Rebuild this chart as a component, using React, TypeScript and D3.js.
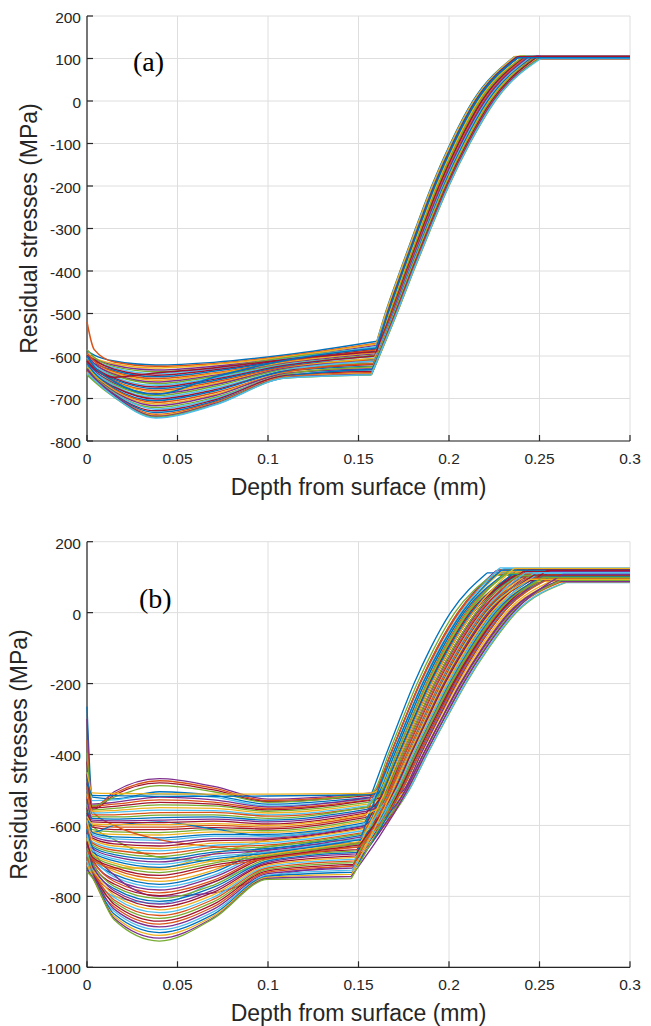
import React from 'react';
import * as d3 from 'd3';

// MATLAB default line colour order
const COLORS = ['#0072BD', '#D95319', '#EDB120', '#7E2F8E', '#77AC30', '#4DBEEE', '#A2142F'];

const X_TICKS = [0, 0.05, 0.1, 0.15, 0.2, 0.25, 0.3];
const X_TICK_LABELS = ['0', '0.05', '0.1', '0.15', '0.2', '0.25', '0.3'];
const Y_TICKS_A = [200, 100, 0, -100, -200, -300, -400, -500, -600, -700, -800];
const Y_TICKS_B = [200, 0, -200, -400, -600, -800, -1000];

// depths (mm) at which the near-surface part of each curve is read
const KNOTS_A = [0, 0.004, 0.015, 0.038, 0.07, 0.11];
const KNOTS_B = [0, 0.003, 0.015, 0.04, 0.07, 0.1];

// shape of the steep rise: stress levels and their relative position between
// depth at -500 MPa (a) and depth where the plateau is reached (b)
const RISE_STRESS = [-500, -400, -300, -200, -100, 0];
const RISE_FRAC = [0, 0.115, 0.235, 0.36, 0.505, 0.68];

// each row: v(knot0..knot5), v at kink, kink depth, a (depth @ -500), b (depth @ plateau), plateau stress
const CURVES_A = [
  [-588, -598, -612, -621, -615, -597, -565, 0.1602, 0.1648, 0.2360, 104],
  [-520, -585, -614, -624, -618, -600, -570, 0.1600, 0.1655, 0.2370, 103],
  [-595, -605, -618, -628, -620, -602, -572, 0.1598, 0.1650, 0.2365, 105],
  [-600, -608, -622, -633, -624, -605, -575, 0.1600, 0.1660, 0.2380, 102],
  [-585, -603, -625, -637, -628, -604, -580, 0.1598, 0.1668, 0.2390, 106],
  [-605, -612, -628, -641, -630, -607, -578, 0.1597, 0.1658, 0.2372, 104],
  [-598, -610, -631, -645, -633, -609, -584, 0.1596, 0.1672, 0.2400, 101],
  [-610, -618, -634, -649, -636, -611, -588, 0.1595, 0.1665, 0.2385, 103],
  [-592, -612, -637, -653, -640, -613, -586, 0.1596, 0.1678, 0.2410, 105],
  [-615, -622, -640, -657, -642, -615, -592, 0.1594, 0.1670, 0.2395, 100],
  [-600, -618, -643, -661, -646, -617, -595, 0.1593, 0.1682, 0.2420, 104],
  [-620, -628, -646, -665, -648, -619, -598, 0.1592, 0.1675, 0.2405, 102],
  [-605, -622, -649, -669, -652, -620, -602, 0.1591, 0.1686, 0.2428, 106],
  [-612, -627, -652, -673, -655, -622, -600, 0.1590, 0.1680, 0.2418, 103],
  [-625, -633, -655, -677, -658, -624, -607, 0.1589, 0.1690, 0.2440, 101],
  [-608, -628, -658, -681, -662, -626, -610, 0.1588, 0.1684, 0.2432, 105],
  [-630, -638, -661, -685, -665, -628, -605, 0.1588, 0.1694, 0.2450, 102],
  [-615, -634, -664, -689, -668, -629, -613, 0.1587, 0.1688, 0.2440, 104],
  [-632, -641, -667, -693, -672, -631, -617, 0.1586, 0.1698, 0.2460, 100],
  [-620, -638, -670, -697, -676, -633, -612, 0.1585, 0.1692, 0.2452, 103],
  [-635, -645, -673, -701, -680, -635, -620, 0.1584, 0.1700, 0.2468, 105],
  [-618, -640, -676, -705, -683, -636, -624, 0.1583, 0.1695, 0.2460, 101],
  [-638, -648, -679, -709, -687, -638, -618, 0.1582, 0.1703, 0.2478, 104],
  [-625, -645, -681, -713, -691, -640, -627, 0.1581, 0.1698, 0.2470, 102],
  [-640, -651, -684, -717, -694, -641, -630, 0.1580, 0.1706, 0.2485, 106],
  [-628, -648, -686, -721, -698, -643, -625, 0.1580, 0.1700, 0.2478, 103],
  [-642, -654, -688, -725, -701, -645, -633, 0.1578, 0.1708, 0.2492, 100],
  [-632, -651, -690, -729, -704, -646, -636, 0.1577, 0.1703, 0.2488, 104],
  [-645, -657, -692, -733, -707, -648, -631, 0.1576, 0.1710, 0.2500, 102],
  [-636, -654, -693, -737, -710, -649, -639, 0.1575, 0.1706, 0.2496, 99],
  [-640, -659, -695, -740, -712, -650, -641, 0.1574, 0.1712, 0.2505, 105],
  [-630, -652, -692, -742, -713, -651, -643, 0.1572, 0.1708, 0.2500, 101],
  [-644, -660, -697, -744, -715, -652, -645, 0.1571, 0.1712, 0.2510, 103],
  [-638, -656, -696, -746, -716, -652, -644, 0.1570, 0.1710, 0.2508, 100],
  [-612, -630, -650, -640, -628, -608, -590, 0.1600, 0.1660, 0.2375, 104],
  [-600, -625, -660, -690, -650, -610, -582, 0.1598, 0.1662, 0.2380, 102],
];

const PEAK_B = [
  [-300, -552, -505, -468, -490, -526, -508, 0.1575, 0.160, 0.226, 118],
  [-360, -548, -510, -474, -495, -530, -512, 0.1570, 0.163, 0.231, 110],
  [-420, -556, -515, -480, -500, -533, -515, 0.1568, 0.166, 0.238, 122],
  [-395, -545, -520, -488, -505, -535, -510, 0.1572, 0.159, 0.224, 105],
  [-450, -508, -510, -511, -512, -512, -510, 0.1560, 0.161, 0.229, 115],
  [-470, -515, -516, -518, -518, -517, -514, 0.1555, 0.165, 0.236, 100],
];
const UPPER_B = [
  [-265, -520, -525, -505, -515, -540, -520, 0.1565, 0.158, 0.221, 112],
  [-500, -530, -528, -512, -520, -545, -525, 0.1560, 0.162, 0.230, 124],
  [-480, -540, -535, -520, -528, -548, -522, 0.1562, 0.167, 0.240, 96],
  [-520, -545, -540, -528, -534, -552, -528, 0.1558, 0.160, 0.226, 108],
  [-455, -550, -546, -535, -540, -556, -530, 0.1555, 0.170, 0.245, 90],
  [-530, -556, -552, -542, -545, -560, -535, 0.1553, 0.164, 0.233, 119],
  [-510, -560, -558, -550, -552, -565, -540, 0.1550, 0.168, 0.242, 102],
  [-540, -565, -563, -557, -558, -570, -545, 0.1548, 0.161, 0.228, 126],
  [-490, -570, -570, -564, -563, -574, -550, 0.1545, 0.172, 0.250, 94],
  [-545, -575, -576, -571, -570, -580, -548, 0.1548, 0.163, 0.232, 110],
  [-560, -580, -582, -578, -576, -585, -555, 0.1545, 0.169, 0.244, 99],
  [-525, -585, -587, -585, -582, -590, -560, 0.1542, 0.175, 0.256, 116],
  [-565, -590, -592, -592, -588, -596, -565, 0.1540, 0.165, 0.236, 104],
  [-575, -596, -598, -598, -595, -600, -568, 0.1543, 0.171, 0.248, 88],
];
const MIDDLE_B = [
  [-580, -600, -605, -605, -600, -605, -572, 0.1540, 0.160, 0.227, 121],
  [-550, -605, -612, -612, -606, -610, -578, 0.1535, 0.173, 0.252, 97],
  [-590, -612, -618, -620, -612, -615, -582, 0.1538, 0.166, 0.238, 113],
  [-600, -618, -625, -627, -618, -620, -588, 0.1532, 0.176, 0.259, 86],
  [-570, -620, -632, -635, -625, -625, -592, 0.1535, 0.162, 0.230, 107],
  [-610, -625, -638, -642, -630, -630, -597, 0.1530, 0.169, 0.244, 123],
  [-595, -630, -645, -650, -637, -636, -602, 0.1528, 0.174, 0.254, 92],
  [-620, -636, -652, -658, -643, -640, -606, 0.1530, 0.164, 0.234, 101],
  [-585, -640, -658, -665, -650, -645, -610, 0.1525, 0.171, 0.248, 117],
  [-630, -646, -664, -672, -656, -650, -615, 0.1522, 0.178, 0.264, 85],
  [-605, -650, -670, -680, -662, -655, -620, 0.1525, 0.167, 0.240, 109],
  [-640, -655, -676, -688, -668, -660, -624, 0.1520, 0.173, 0.252, 95],
  [-615, -660, -682, -695, -675, -665, -628, 0.1518, 0.161, 0.229, 120],
  [-650, -665, -688, -703, -681, -670, -632, 0.1520, 0.176, 0.260, 88],
  [-625, -670, -694, -710, -688, -675, -637, 0.1515, 0.168, 0.242, 112],
  [-660, -675, -700, -718, -694, -678, -640, 0.1512, 0.172, 0.251, 100],
  [-635, -680, -706, -725, -700, -682, -645, 0.1515, 0.165, 0.236, 125],
  [-665, -684, -712, -733, -706, -686, -650, 0.1510, 0.177, 0.262, 91],
  [-645, -690, -718, -741, -712, -690, -655, 0.1508, 0.170, 0.247, 106],
  [-670, -694, -724, -749, -718, -694, -660, 0.1505, 0.174, 0.256, 98],
];
const LOWER_B = [
  [-600, -680, -730, -758, -726, -660, -640, 0.1505, 0.163, 0.233, 118],
  [-640, -690, -738, -766, -732, -668, -648, 0.1500, 0.171, 0.249, 103],
  [-660, -685, -745, -774, -740, -675, -655, 0.1498, 0.176, 0.260, 89],
  [-620, -695, -752, -782, -746, -680, -650, 0.1500, 0.166, 0.239, 114],
  [-675, -700, -758, -790, -754, -686, -662, 0.1495, 0.173, 0.253, 96],
  [-650, -705, -765, -798, -760, -690, -668, 0.1492, 0.169, 0.244, 122],
  [-680, -708, -772, -806, -768, -695, -672, 0.1490, 0.178, 0.265, 86],
  [-610, -712, -778, -814, -774, -700, -676, 0.1492, 0.164, 0.235, 108],
  [-690, -716, -784, -822, -782, -704, -680, 0.1488, 0.172, 0.251, 100],
  [-660, -720, -790, -830, -788, -708, -686, 0.1485, 0.167, 0.241, 116],
  [-700, -724, -797, -838, -795, -712, -690, 0.1482, 0.175, 0.258, 93],
  [-670, -726, -803, -846, -802, -716, -695, 0.1480, 0.170, 0.247, 111],
  [-705, -730, -810, -854, -808, -720, -700, 0.1478, 0.177, 0.262, 87],
  [-680, -732, -816, -862, -815, -724, -705, 0.1475, 0.166, 0.238, 104],
  [-710, -735, -822, -870, -822, -728, -710, 0.1472, 0.173, 0.254, 119],
  [-690, -738, -829, -878, -829, -732, -715, 0.1470, 0.168, 0.243, 97],
  [-715, -740, -836, -886, -836, -736, -720, 0.1468, 0.176, 0.261, 90],
  [-700, -742, -842, -894, -843, -740, -726, 0.1465, 0.171, 0.250, 113],
  [-720, -744, -850, -902, -850, -743, -732, 0.1465, 0.174, 0.256, 101],
  [-710, -745, -856, -910, -855, -746, -738, 0.1462, 0.169, 0.245, 94],
  [-725, -746, -862, -918, -860, -749, -744, 0.1460, 0.177, 0.263, 108],
  [-730, -748, -866, -926, -862, -752, -750, 0.1460, 0.172, 0.252, 99],
];
const CROSS_B = [
  [-560, -600, -640, -690, -700, -660, -640, 0.1530, 0.168, 0.242, 105],
  [-640, -700, -720, -720, -680, -640, -600, 0.1535, 0.165, 0.236, 112],
  [-450, -620, -600, -590, -610, -630, -600, 0.1535, 0.170, 0.246, 95],
  [-700, -740, -800, -820, -760, -700, -660, 0.1500, 0.174, 0.255, 103],
  [-600, -660, -740, -800, -790, -745, -712, 0.1490, 0.169, 0.246, 117],
  [-520, -560, -600, -640, -660, -675, -650, 0.1510, 0.172, 0.250, 92],
];

const FONT = '"Liberation Sans", Arial, Helvetica, sans-serif';
const TEXT = '#262626';

function interleave(groups: number[][][]): number[][] {
  const out: number[][] = [];
  const n = d3.max(groups, (g) => g.length) || 0;
  for (let i = 0; i < n; i++) groups.forEach((g) => { if (g[i]) out.push(g[i]); });
  return out;
}

type PanelProps = {
  rows: number[][];
  knots: number[];
  yDomain: [number, number];
  yTicks: number[];
  top: number;
  bottom: number;
  label: string;
  labelX: number;
  labelY: number;
  yTitleX: number;
  lineWidth: number;
};

function Panel({ rows, knots, yDomain, yTicks, top, bottom, label, labelX, labelY, yTitleX, lineWidth }: PanelProps) {
  const x = d3.scaleLinear().domain([0, 0.3]).range([87, 630]);
  const y = d3.scaleLinear().domain(yDomain).range([bottom, top]);
  const smooth = d3.line<number[]>().x((d) => x(d[0])).y((d) => y(d[1])).curve(d3.curveMonotoneX);
  const straight = d3.line<number[]>().x((d) => x(d[0])).y((d) => y(d[1]));
  const paths = rows.map((r) => {
    const kink = [r[7], r[6]];
    const left = knots.map((k, j) => [k, r[j]]).concat([kink]);
    const rise = [kink]
      .concat(RISE_STRESS.map((s, j) => [r[8] + RISE_FRAC[j] * (r[9] - r[8]), s]))
      .concat([[r[9], r[10]]]);
    const plateau = [[r[9], r[10]], [0.3, r[10]]];
    return (smooth(left) || '') + (smooth(rise) || '') + (straight(plateau) || '');
  });
  const [x0, x1] = x.range();
  return (
    <g>
      {X_TICKS.map((t) => (
        <line key={'gx' + t} x1={x(t)} x2={x(t)} y1={top} y2={bottom} stroke="#dedede" strokeWidth={1} />
      ))}
      {yTicks.map((t) => (
        <line key={'gy' + t} x1={x0} x2={x1} y1={y(t)} y2={y(t)} stroke="#dedede" strokeWidth={1} />
      ))}
      <line x1={x0} x2={x0} y1={top} y2={bottom} stroke={TEXT} strokeWidth={1.2} />
      <line x1={x0} x2={x1} y1={bottom} y2={bottom} stroke={TEXT} strokeWidth={1.2} />
      {X_TICKS.map((t) => (
        <line key={'tx' + t} x1={x(t)} x2={x(t)} y1={bottom} y2={bottom - 6} stroke={TEXT} strokeWidth={1.2} />
      ))}
      {yTicks.map((t) => (
        <line key={'ty' + t} x1={x0} x2={x0 + 6} y1={y(t)} y2={y(t)} stroke={TEXT} strokeWidth={1.2} />
      ))}
      {paths.map((d, i) => (
        <path key={i} d={d} fill="none" stroke={COLORS[i % COLORS.length]} strokeWidth={lineWidth} strokeLinejoin="round" />
      ))}
      {X_TICKS.map((t, i) => (
        <text key={'lx' + t} x={x(t)} y={bottom + 22.5} textAnchor="middle" fontFamily={FONT} fontSize={15.5} fill={TEXT}>
          {X_TICK_LABELS[i]}
        </text>
      ))}
      {yTicks.map((t) => (
        <text key={'ly' + t} x={81} y={y(t) + 1.5} dy="0.35em" textAnchor="end" fontFamily={FONT} fontSize={15.5} fill={TEXT}>
          {String(t)}
        </text>
      ))}
      <text x={(x0 + x1) / 2} y={bottom + 54} textAnchor="middle" fontFamily={FONT} fontSize={23} fill={TEXT}>
        Depth from surface (mm)
      </text>
      <text
        transform={`translate(${yTitleX},${(top + bottom) / 2}) rotate(-90)`}
        textAnchor="middle"
        fontFamily={FONT}
        fontSize={23}
        fill={TEXT}
      >
        Residual stresses (MPa)
      </text>
      <text x={labelX} y={labelY} fontFamily='"Liberation Serif", "Times New Roman", serif' fontSize={28} fill="#000">
        {label}
      </text>
    </g>
  );
}

export default function App() {
  const rowsB = interleave([UPPER_B, MIDDLE_B, LOWER_B, PEAK_B, CROSS_B]);
  return (
    <svg width={651} height={1026} style={{ position: 'absolute', left: 0, top: 0, background: '#fff' }}>
      <rect width={651} height={1026} fill="#fff" />
      <Panel
        rows={CURVES_A}
        knots={KNOTS_A}
        yDomain={[-800, 200]}
        yTicks={Y_TICKS_A}
        top={16}
        bottom={441}
        label="(a)"
        labelX={133}
        labelY={70.5}
        yTitleX={37}
        lineWidth={1.5}
      />
      <Panel
        rows={rowsB}
        knots={KNOTS_B}
        yDomain={[-1000, 200]}
        yTicks={Y_TICKS_B}
        top={541.7}
        bottom={967.3}
        label="(b)"
        labelX={139}
        labelY={608}
        yTitleX={27}
        lineWidth={1.3}
      />
    </svg>
  );
}
